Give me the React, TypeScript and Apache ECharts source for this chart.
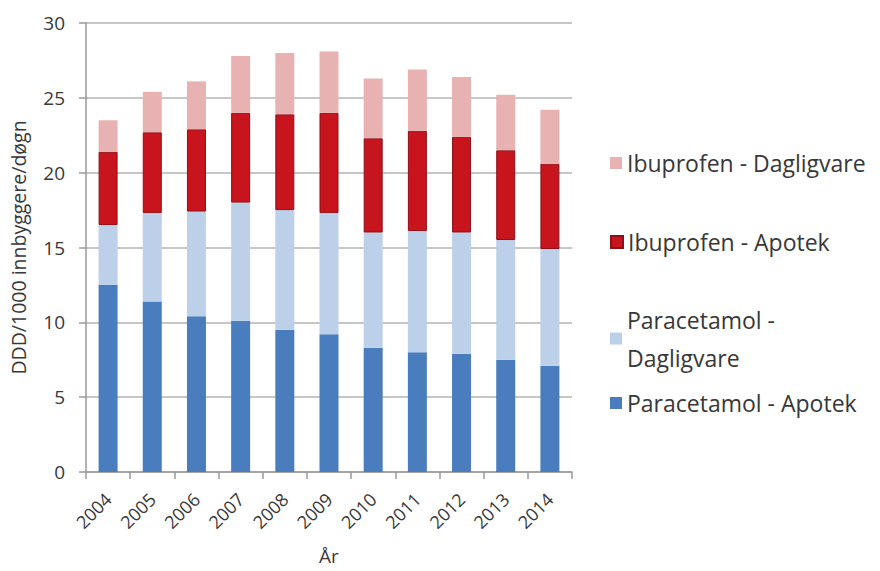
import React, { useEffect, useRef } from "react";
import * as echarts from "echarts";

const years = ["2004", "2005", "2006", "2007", "2008", "2009", "2010", "2011", "2012", "2013", "2014"];
const paraApotek = [12.5, 11.4, 10.4, 10.1, 9.5, 9.2, 8.3, 8.0, 7.9, 7.5, 7.1];
const paraDaglig = [4.0, 5.9, 7.0, 7.9, 8.0, 8.1, 7.7, 8.1, 8.1, 8.0, 7.8];
const ibuApotek = [4.9, 5.4, 5.5, 6.0, 6.4, 6.7, 6.3, 6.7, 6.4, 6.0, 5.7];
const ibuDaglig = [2.1, 2.7, 3.2, 3.8, 4.1, 4.1, 4.0, 4.1, 4.0, 3.7, 3.6];
const yTicks = [0, 5, 10, 15, 20, 25, 30];

const FONT = "Open Sans";
const TXT = "#383838";

export default function App() {
  const ref = useRef<HTMLDivElement>(null);
  useEffect(() => {
    if (!ref.current) return;
    const chart = echarts.init(ref.current, undefined, { renderer: "svg" });
    const legendBase = {
      orient: "vertical" as const,
      left: 605,
      itemWidth: 12,
      itemHeight: 12,
      itemGap: 10,
      icon: "rect",
      selectedMode: false,
      textStyle: { fontFamily: FONT, fontSize: 23, color: TXT },
    };
    chart.setOption({
      animation: false,
      textStyle: { fontFamily: FONT },
      grid: { left: 86, right: 308, top: 23, bottom: 99, outerBoundsMode: "none", containLabel: false },
      legend: [
        { ...legendBase, top: 146.5, data: ["Ibuprofen - Dagligvare"] },
        { ...legendBase, top: 225.5, data: ["Ibuprofen - Apotek"] },
        {
          ...legendBase,
          top: 276.5,
          data: ["Paracetamol - Dagligvare"],
          formatter: () => "Paracetamol -\nDagligvare",
          textStyle: { ...legendBase.textStyle, lineHeight: 38, padding: [38, 0, 0, 0] },
        },
        { ...legendBase, top: 386.5, data: ["Paracetamol - Apotek"] },
      ],
      xAxis: {
        type: "category",
        data: years,
        name: "År",
        nameLocation: "middle",
        nameGap: 74,
        nameTextStyle: { fontFamily: FONT, fontSize: 19, color: TXT },
        axisLine: { lineStyle: { color: "#9a9a9a", width: 1.5 } },
        axisTick: { show: true, length: 7, lineStyle: { color: "#9a9a9a", width: 1.5 } },
        axisLabel: { rotate: 45, fontFamily: FONT, fontSize: 18, color: TXT, margin: 24 },
      },
      yAxis: {
        type: "value",
        min: 0,
        max: 30,
        interval: 5,
        name: "DDD/1000 innbyggere/døgn",
        nameLocation: "middle",
        nameGap: 58,
        nameTextStyle: { fontFamily: FONT, fontSize: 19.5, color: TXT },
        axisLine: { show: true, lineStyle: { color: "#9a9a9a", width: 1.5 } },
        axisTick: { show: true, length: 7, lineStyle: { color: "#9a9a9a", width: 1.5 } },
        axisLabel: {
          fontFamily: FONT,
          fontSize: 19,
          color: TXT,
          margin: 21,
          formatter: (v: number) => (yTicks.includes(v) ? String(v) : ""),
        },
        splitLine: { lineStyle: { color: "#b4b4b4", width: 1.5 } },
      },
      series: [
        {
          name: "Paracetamol - Apotek",
          type: "bar",
          stack: "a",
          data: paraApotek,
          barWidth: "43%",
          itemStyle: { color: "#4a7dbd" },
        },
        {
          name: "Paracetamol - Dagligvare",
          type: "bar",
          stack: "a",
          data: paraDaglig,
          itemStyle: { color: "#bcd0ea" },
        },
        {
          name: "Ibuprofen - Apotek",
          type: "bar",
          stack: "a",
          data: ibuApotek,
          itemStyle: { color: "#c8141c", borderColor: "#8e1016", borderWidth: 1 },
        },
        {
          name: "Ibuprofen - Dagligvare",
          type: "bar",
          stack: "a",
          data: ibuDaglig,
          itemStyle: { color: "#e8b2b2" },
        },
      ],
    });
    return () => chart.dispose();
  }, []);
  return <div ref={ref} style={{ width: 880, height: 571, position: "absolute", left: 0, top: 0 }} />;
}
